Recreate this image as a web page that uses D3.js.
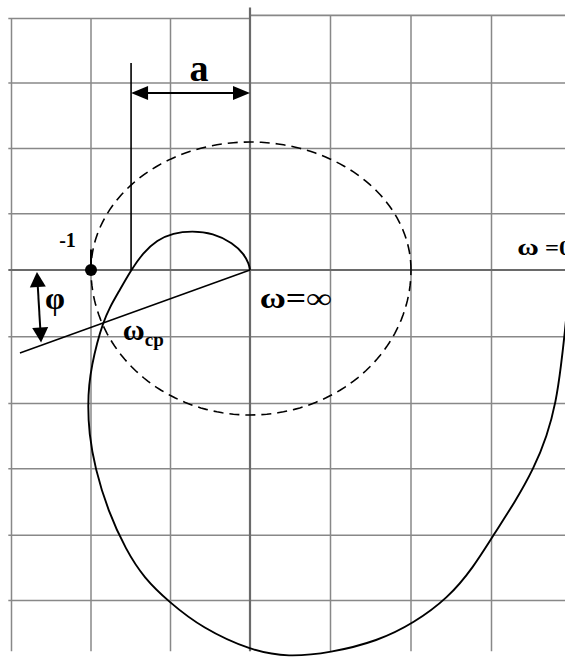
<!DOCTYPE html>
<html>
<head>
<meta charset="utf-8">
<script src="https://cdn.jsdelivr.net/npm/d3@7"></script>
<style>
  html, body { margin: 0; padding: 0; background: #fff; }
  svg { display: block; }
  text { font-family: "Liberation Serif", "DejaVu Serif", serif; font-weight: bold; fill: #000; }
</style>
</head>
<body>
<svg id="chart" width="565" height="657"></svg>
<script>
// Nyquist diagram of an open-loop frequency response with the unit circle,
// phase margin φ and gain margin a.

// grid positions on the real and imaginary axes
const gridRe = [-1.5, -1, -0.5, 0.5, 1, 1.5];
const gridIm = [1.46, 0.95, 0.44, -0.46, -0.92, -1.37, -1.83, -2.28];
const topEdgeIm = [1.965, 1.99];        // top border, left and right of the imaginary axis
const gridExtentRe = [-1.52, 1.98];
const gridExtentIm = [1.98, -2.63];

// frequency response W(jω), from ω = 0 (right) to ω = ∞ (origin)
const nyqRe = [1.994, 1.988, 1.975, 1.957, 1.932, 1.901, 1.845, 1.764, 1.646, 1.516, 1.385,
               1.230, 1.019, 0.795, 0.497, 0.236, 0.012, -0.302, -0.509, -0.667,
               -0.780, -0.893, -0.975, -1.013, -1.019, -1.013, -0.994, -0.962, -0.925, -0.881,
               -0.830, -0.748, -0.673, -0.585, -0.484, -0.365, -0.233, -0.107, -0.038, -0.006, 0];
const nyqIm = [0.02, -0.014, -0.207, -0.414, -0.662, -0.910, -1.145, -1.366, -1.600, -1.821, -2.055,
               -2.262, -2.434, -2.559, -2.641, -2.669, -2.628, -2.469, -2.290, -2.124,
               -1.931, -1.662, -1.366, -1.124, -0.931, -0.793, -0.655, -0.503, -0.366, -0.255,
               -0.159, 0, 0.133, 0.234, 0.289, 0.305, 0.289, 0.211, 0.125, 0.047, 0];

// characteristic points
const criticalPoint = [-1, 0];          // (-1, j0)
const crossReal = [-0.748, 0];          // crossing of the negative real axis
const crossUnit = [-0.925, -0.366];     // ω_cp, crossing of the unit circle
const phaseLineEnd = [-1.447, -0.572];
const gainMarkTop = 1.617;              // top of the vertical mark at the real-axis crossing
const gainArrowIm = 1.383;              // level of the "a" arrow
const phiArrow = [[-1.34, -0.014], [-1.314, -0.50]];

const svg = d3.select("#chart");
const x = d3.scaleLinear().domain([-1, 0, 1]).range([91, 250, 411]);
const y = d3.scaleLinear().domain([1, 0, -1]).range([142, 270, 415]);

// grid
const g = svg.append("g");
const gridStroke = "#888";
g.selectAll("line.v").data(gridRe).join("line")
  .attr("x1", d => x(d)).attr("x2", d => x(d))
  .attr("y1", d => y(d < 0 ? topEdgeIm[0] : topEdgeIm[1])).attr("y2", y(gridExtentIm[1]))
  .attr("stroke", gridStroke).attr("stroke-width", 1.5);
g.selectAll("line.h").data(gridIm).join("line")
  .attr("x1", x(gridExtentRe[0])).attr("x2", x(gridExtentRe[1]))
  .attr("y1", d => y(d)).attr("y2", d => y(d))
  .attr("stroke", gridStroke).attr("stroke-width", 1.5);
// top border with its small step at the imaginary axis
g.append("line")
  .attr("x1", x(gridExtentRe[0])).attr("x2", x(0))
  .attr("y1", y(topEdgeIm[0])).attr("y2", y(topEdgeIm[0]))
  .attr("stroke", gridStroke).attr("stroke-width", 1.7);
g.append("line")
  .attr("x1", x(0)).attr("x2", x(gridExtentRe[1]))
  .attr("y1", y(topEdgeIm[1])).attr("y2", y(topEdgeIm[1]))
  .attr("stroke", gridStroke).attr("stroke-width", 1.7);

// axes
g.append("line")
  .attr("x1", x(0)).attr("x2", x(0))
  .attr("y1", y(2.05)).attr("y2", y(gridExtentIm[1]))
  .attr("stroke", "#6a6a6a").attr("stroke-width", 2.2);
g.append("line")
  .attr("x1", x(gridExtentRe[0])).attr("x2", x(gridExtentRe[1]))
  .attr("y1", y(0)).attr("y2", y(0))
  .attr("stroke", "#6a6a6a").attr("stroke-width", 2.2);

// unit circle
const circlePts = d3.range(0, 361, 2).map(a => [Math.cos(a * Math.PI / 180), Math.sin(a * Math.PI / 180)]);
svg.append("path")
  .attr("d", d3.line().x(d => x(d[0])).y(d => y(d[1]))(circlePts))
  .attr("fill", "none").attr("stroke", "#000").attr("stroke-width", 1.6)
  .attr("stroke-dasharray", "10,6");

// Nyquist curve (smoothed through the sampled points)
const nyq = nyqRe.map((r, i) => [r, nyqIm[i]]);
svg.append("path")
  .attr("d", d3.line().x(d => x(d[0])).y(d => y(d[1])).curve(d3.curveBasis)(nyq))
  .attr("fill", "none").attr("stroke", "#000").attr("stroke-width", 1.9);

// phase line from the origin through ω_cp
svg.append("line")
  .attr("x1", x(0)).attr("y1", y(0))
  .attr("x2", x(phaseLineEnd[0])).attr("y2", y(phaseLineEnd[1]))
  .attr("stroke", "#000").attr("stroke-width", 1.5);

// vertical mark at the real-axis crossing
svg.append("line")
  .attr("x1", x(crossReal[0])).attr("x2", x(crossReal[0]))
  .attr("y1", y(0)).attr("y2", y(gainMarkTop))
  .attr("stroke", "#000").attr("stroke-width", 1.6);

// double-headed arrow helper
function arrow(p1, p2, headLen, headHalf) {
  const x1 = x(p1[0]), y1 = y(p1[1]), x2 = x(p2[0]), y2 = y(p2[1]);
  const dx = x2 - x1, dy = y2 - y1, L = Math.hypot(dx, dy);
  const ux = dx / L, uy = dy / L, nx = -uy, ny = ux;
  svg.append("line")
    .attr("x1", x1 + ux * headLen * 0.6).attr("y1", y1 + uy * headLen * 0.6)
    .attr("x2", x2 - ux * headLen * 0.6).attr("y2", y2 - uy * headLen * 0.6)
    .attr("stroke", "#000").attr("stroke-width", 2);
  const head = (tx, ty, sx, sy) => {
    const bx = tx + sx * headLen, by = ty + sy * headLen;
    return `M${tx},${ty}L${bx + nx * headHalf},${by + ny * headHalf}L${bx - nx * headHalf},${by - ny * headHalf}Z`;
  };
  svg.append("path").attr("d", head(x1, y1, ux, uy)).attr("fill", "#000");
  svg.append("path").attr("d", head(x2, y2, -ux, -uy)).attr("fill", "#000");
}
arrow([crossReal[0], gainArrowIm], [0, gainArrowIm], 17, 7);
arrow(phiArrow[0], phiArrow[1], 15, 8);

// critical point (-1, j0)
svg.append("line")
  .attr("x1", x(criticalPoint[0])).attr("x2", x(criticalPoint[0]))
  .attr("y1", y(0.16)).attr("y2", y(0))
  .attr("stroke", "#000").attr("stroke-width", 2);
svg.append("circle")
  .attr("cx", x(criticalPoint[0])).attr("cy", y(criticalPoint[1]))
  .attr("r", 6).attr("fill", "#000");

// labels
svg.append("text").attr("x", x(-0.32)).attr("y", y(1.48))
  .attr("text-anchor", "middle").attr("font-size", 38).text("a");
svg.append("text").attr("x", x(-1.2)).attr("y", y(0.18))
  .attr("font-size", 20).text("-1");
svg.append("text").attr("x", x(-1.29)).attr("y", y(-0.27))
  .attr("font-size", 32).text("φ");
const wcp = svg.append("text").attr("x", x(-0.8)).attr("y", y(-0.48)).attr("font-size", 30);
wcp.append("tspan").text("ω");
wcp.append("tspan").attr("font-size", 19).attr("dy", 6).text("cp");
svg.append("text").attr("x", x(0.06)).attr("y", y(-0.26))
  .attr("font-size", 29).attr("textLength", 72).attr("lengthAdjust", "spacingAndGlyphs")
  .text("ω=∞");
const w0 = svg.append("text").attr("x", x(1.66)).attr("y", y(0.12)).attr("font-size", 24)
  .attr("textLength", 54).attr("lengthAdjust", "spacingAndGlyphs");
w0.append("tspan").text("ω");
w0.append("tspan").attr("font-size", 20).text(" =0");
</script>
</body>
</html>
